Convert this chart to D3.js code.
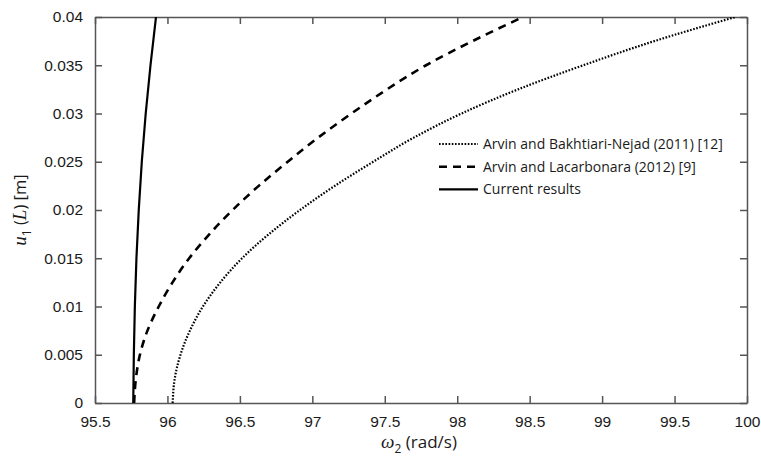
<!DOCTYPE html>
<html>
<head>
<meta charset="utf-8">
<script src="https://cdn.jsdelivr.net/npm/d3@7"></script>
<style>
  body { margin: 0; background: #fff; }
  svg { font-family: "Open Sans", sans-serif; }
  .axis text { font-size: 15.5px; fill: #1a1a1a; }
  .axis path, .axis line { stroke: #555; stroke-width: 1.5; }
</style>
</head>
<body>
<div id="chart-area"></div>
<script>
// tip amplitude u_1(L) (m) and frequency omega_2 (rad/s)
const amplitudeSteps = [0, 0.0025, 0.005, 0.0075, 0.01, 0.0125, 0.015, 0.0175, 0.02,
  0.0225, 0.025, 0.0275, 0.03, 0.0325, 0.035, 0.0375, 0.04];

const currentU = [0, 0.005, 0.01, 0.015, 0.02, 0.025, 0.03, 0.035, 0.04];
const currentOmega = [95.764, 95.768, 95.775, 95.786, 95.802, 95.823, 95.850, 95.883, 95.921];

const lacarbonaraOmega = [95.770, 95.782, 95.810, 95.862, 95.940, 96.035, 96.150, 96.290, 96.450,
  96.630, 96.830, 97.040, 97.270, 97.515, 97.785, 98.105, 98.454];

const bakhtiariOmega = [96.036, 96.050, 96.090, 96.155, 96.245, 96.365, 96.515, 96.700, 96.915,
  97.155, 97.420, 97.700, 98.030, 98.420, 98.870, 99.360, 99.920];

const xTicks = [95.5, 96, 96.5, 97, 97.5, 98, 98.5, 99, 99.5, 100];
const xTickLabels = ["95.5", "96", "96.5", "97", "97.5", "98", "98.5", "99", "99.5", "100"];
const yTicks = [0, 0.005, 0.01, 0.015, 0.02, 0.025, 0.03, 0.035, 0.04];
const yTickLabels = ["0", "0.005", "0.01", "0.015", "0.02", "0.025", "0.03", "0.035", "0.04"];

const legendLabels = ["Arvin and Bakhtiari-Nejad (2011) [12]", "Arvin and Lacarbonara (2012) [9]", "Current results"];

const drawChart = () => {
  const chartSize = { width: 761, height: 463 };
  const margin = { left: 95, right: 14, top: 17, bottom: 60 };
  const width = chartSize.width - (margin.left + margin.right);
  const height = chartSize.height - (margin.top + margin.bottom);

  const x = d3.scaleLinear().domain([95.5, 100]).range([0, width]);
  const y = d3.scaleLinear().domain([0, 0.04]).range([height, 0]);

  const svg = d3.select("#chart-area")
    .append("svg")
    .attr("width", chartSize.width)
    .attr("height", chartSize.height);

  const g = svg.append("g")
    .attr("transform", `translate(${margin.left}, ${margin.top})`);

  g.append("defs").append("clipPath").attr("id", "plot-clip")
    .append("rect").attr("width", width).attr("height", height);

  const xAxis = d3.axisBottom(x).tickValues(xTicks)
    .tickFormat((d, i) => xTickLabels[i]).tickSizeInner(-7).tickSizeOuter(0).tickPadding(13);
  const yAxis = d3.axisLeft(y).tickValues(yTicks)
    .tickFormat((d, i) => yTickLabels[i]).tickSizeInner(-7).tickSizeOuter(0).tickPadding(12);

  g.append("g").attr("class", "x axis")
    .attr("transform", `translate(0, ${height})`).call(xAxis);
  g.append("g").attr("class", "y axis").call(yAxis);
  g.append("g").attr("class", "axis")
    .call(d3.axisTop(x).tickValues(xTicks).tickFormat("").tickSizeInner(-7).tickSizeOuter(0));
  g.append("g").attr("class", "axis")
    .attr("transform", `translate(${width}, 0)`)
    .call(d3.axisRight(y).tickValues(yTicks).tickFormat("").tickSizeInner(-7).tickSizeOuter(0));

  const series = [
    { omega: bakhtiariOmega, u: amplitudeSteps, dash: "1.6,1.6", w: 2.2 },
    { omega: lacarbonaraOmega, u: amplitudeSteps, dash: "8,6", w: 2.6 },
    { omega: currentOmega, u: currentU, dash: null, w: 2.2 }
  ];

  const line = d3.line()
    .x(d => x(d[0]))
    .y(d => y(d[1]))
    .curve(d3.curveMonotoneY);

  const curves = g.append("g").attr("clip-path", "url(#plot-clip)");
  series.forEach(s => {
    curves.append("path")
      .datum(s.omega.map((w, i) => [w, s.u[i]]))
      .attr("d", line)
      .attr("fill", "none")
      .attr("stroke", "#000")
      .attr("stroke-width", s.w)
      .attr("stroke-dasharray", s.dash);
  });

  // legend
  const legend = g.append("g").attr("transform", `translate(${344}, ${127})`);
  series.forEach((s, i) => {
    const row = legend.append("g").attr("transform", `translate(0, ${i * 22.7})`);
    row.append("line")
      .attr("x1", 0).attr("x2", 39)
      .attr("stroke", "#000")
      .attr("stroke-width", s.w)
      .attr("stroke-dasharray", s.dash);
    row.append("text")
      .attr("x", 44).attr("dy", "0.35em")
      .style("font-size", "14px").style("fill", "#1a1a1a")
      .text(legendLabels[i]);
  });

  // axis labels
  const xLabel = g.append("text")
    .attr("x", width / 2 - 2).attr("y", height + 45)
    .attr("text-anchor", "middle")
    .style("font-size", "17px").style("fill", "#1a1a1a");
  xLabel.append("tspan").style("font-family", "Liberation Serif").style("font-style", "italic")
    .style("font-size", "19px").text("ω");
  xLabel.append("tspan").attr("dy", 5).style("font-size", "12px").text("2");
  xLabel.append("tspan").attr("dy", -5).text(" (rad/s)");

  const yLabel = g.append("text")
    .attr("transform", `translate(${26 - margin.left}, ${height / 2}) rotate(-90)`)
    .attr("text-anchor", "middle")
    .style("font-size", "16.5px").style("fill", "#1a1a1a");
  yLabel.append("tspan").style("font-family", "Liberation Serif").style("font-style", "italic")
    .style("font-size", "19px").text("u");
  yLabel.append("tspan").attr("dy", 5).style("font-size", "12px").text("1");
  yLabel.append("tspan").attr("dy", -5).text(" (");
  yLabel.append("tspan").style("font-family", "Liberation Serif").style("font-style", "italic")
    .style("font-size", "19px").text("L");
  yLabel.append("tspan").text(") [m]");
};

window.onload = drawChart;
</script>
</body>
</html>
